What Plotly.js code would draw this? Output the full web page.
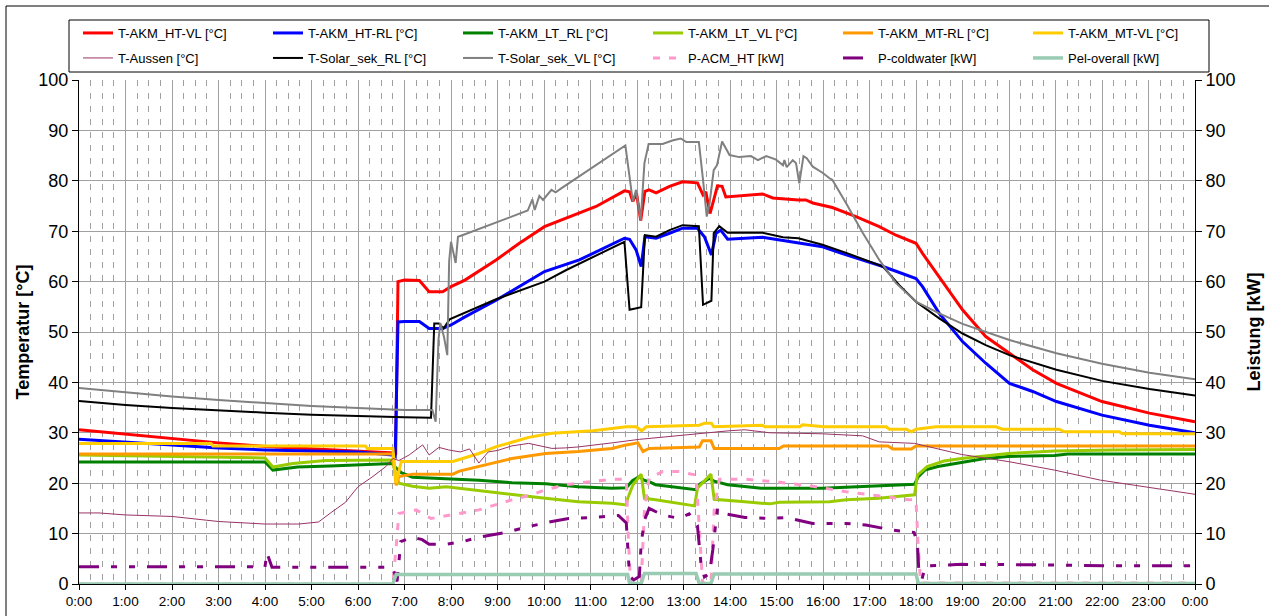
<!DOCTYPE html>
<html><head><meta charset="utf-8">
<script src="https://cdn.plot.ly/plotly-3.0.1.min.js"></script>
<style>html,body{margin:0;padding:0;background:#fff;} #chart{width:1269px;height:616px;}</style>
</head><body><div id="chart"></div>
<script>
// time in hours (0..24)
const hourTicks = [0,1,2,3,4,5,6,7,8,9,10,11,12,13,14,15,16,17,18,19,20,21,22,23,24];
const hourLabels = ["0:00","1:00","2:00","3:00","4:00","5:00","6:00","7:00","8:00","9:00","10:00","11:00","12:00","13:00","14:00","15:00","16:00","17:00","18:00","19:00","20:00","21:00","22:00","23:00","0:00"];

// [hour, value]
const akmHtVl = [[0,30.6],[1,29.7],[2,28.8],[3,28.0],[4,27.3],[5,26.8],[6,26.4],[6.78,26.0],[6.81,25.6],[6.86,60.0],[7.0,60.3],[7.32,60.2],[7.53,58.0],[7.82,58.0],[8.0,59.0],[8.3,60.3],[8.97,64.3],[9.47,67.6],[10.01,70.9],[10.76,73.5],[11.12,74.9],[11.73,78.0],[11.84,77.8],[11.91,75.9],[11.99,77.5],[12.08,72.1],[12.17,77.9],[12.26,78.2],[12.41,77.6],[12.7,78.9],[12.98,79.8],[13.3,79.6],[13.42,77.2],[13.48,77.8],[13.57,73.5],[13.65,76.2],[13.73,79.0],[13.83,78.9],[13.91,76.8],[14.7,77.4],[14.92,76.6],[15.47,76.2],[15.63,76.2],[15.78,75.6],[16.2,74.7],[16.71,72.9],[17.21,70.9],[17.57,69.2],[18.0,67.6],[18.14,65.6],[18.5,61.0],[19.0,54.4],[19.5,49.1],[20.01,45.8],[20.51,42.5],[21.02,39.8],[22.0,36.2],[23.02,33.9],[24,32.2]];
const akmHtRl = [[0,28.7],[1,28.2],[2,27.6],[3,27.0],[4,26.6],[5,26.4],[6,26.2],[6.74,25.6],[6.8,25.3],[6.86,52.0],[7.0,52.1],[7.32,52.1],[7.53,50.7],[7.82,50.7],[8.0,51.4],[8.3,53.0],[8.97,56.3],[10.01,62.0],[10.76,64.3],[11.73,68.6],[11.84,68.4],[11.98,66.3],[12.09,63.0],[12.17,68.9],[12.41,68.6],[12.7,69.6],[12.98,70.6],[13.3,70.6],[13.45,68.9],[13.6,65.3],[13.7,69.6],[13.8,70.2],[13.95,68.4],[14.7,68.8],[15.47,67.7],[15.99,66.9],[16.5,65.3],[17.29,63.0],[18.0,60.6],[18.14,59.0],[18.5,53.7],[19.0,48.1],[19.5,43.8],[20.01,39.8],[20.51,38.2],[21.02,36.2],[22.0,33.5],[23.02,31.5],[24,30.0]];
const akmLtRl = [[0,24.2],[4.0,24.2],[4.17,22.6],[4.7,23.2],[5.4,23.4],[6.74,23.9],[6.82,23.0],[6.93,22.1],[7.17,21.2],[7.9,20.9],[8.6,20.6],[9.31,20.1],[10.03,19.9],[10.74,19.3],[11.46,19.0],[11.77,19.1],[11.9,20.5],[12.05,21.3],[12.15,20.6],[12.26,20.3],[12.4,19.7],[13.27,18.7],[13.35,19.8],[13.56,21.0],[13.66,20.4],[13.95,19.7],[14.67,19.0],[15.99,19.0],[16.47,19.2],[17.19,19.5],[17.97,19.8],[18.05,21.3],[18.19,22.6],[18.47,23.3],[18.98,24.1],[19.48,24.9],[19.98,25.3],[20.98,25.5],[21.27,25.8],[24,25.8]];
const akmLtVl = [[0,25.6],[3.9,25.1],[4.0,25.0],[4.17,23.2],[4.6,23.9],[5.3,24.5],[6.74,24.6],[6.8,22.0],[6.88,20.0],[7.17,19.4],[7.53,19.0],[7.9,19.3],[8.6,18.5],[9.31,17.7],[10.03,17.0],[10.74,16.3],[11.46,16.0],[11.77,15.7],[11.8,17.0],[11.91,19.6],[12.09,21.8],[12.16,17.0],[12.4,16.7],[13.24,15.5],[13.3,19.0],[13.59,21.8],[13.66,16.8],[14.32,16.3],[14.86,15.9],[15.06,16.2],[15.5,16.3],[16.14,16.3],[16.5,16.7],[17.2,17.0],[17.97,17.7],[18.03,21.6],[18.24,23.3],[18.6,24.4],[18.98,24.9],[19.48,25.4],[19.98,25.9],[20.98,26.4],[22.2,26.6],[24,26.7]];
const akmMtRl = [[0,25.8],[6.75,25.8],[6.82,19.6],[6.88,21.3],[7.17,21.8],[8.04,21.8],[8.18,22.4],[8.6,23.3],[9.31,24.9],[10.03,25.9],[10.74,26.3],[11.46,26.9],[11.77,27.6],[12.02,28.0],[12.13,26.3],[12.26,26.9],[13.34,27.2],[13.41,28.4],[13.59,28.4],[13.66,26.9],[15.06,26.9],[15.15,27.4],[17.4,27.4],[17.5,26.8],[17.9,26.8],[18.0,27.4],[24,27.4]];
const akmMtVl = [[0,27.9],[2.84,27.9],[2.88,27.4],[6.16,27.4],[6.2,26.9],[6.75,26.9],[6.82,20.0],[6.93,24.3],[8.04,24.3],[8.6,25.9],[8.96,27.2],[9.31,28.2],[9.67,29.1],[10.17,29.9],[11.05,30.4],[11.77,31.2],[11.98,31.2],[12.1,30.4],[12.2,31.2],[13.34,31.5],[13.45,31.9],[13.6,31.9],[13.65,31.2],[14.7,31.5],[14.75,31.2],[15.5,31.2],[15.56,31.6],[16.02,31.2],[17.36,31.2],[17.43,30.7],[17.79,30.7],[17.9,30.2],[18.0,30.7],[18.43,31.2],[19.72,31.2],[19.86,30.7],[21.08,30.7],[21.19,30.2],[22.37,30.2],[22.44,29.8],[24,29.8]];
const tAussen = [[0,14.1],[0.43,14.1],[1,13.7],[2,13.4],[3,12.4],[4,11.9],[4.73,11.9],[5.15,12.3],[5.44,14.3],[5.73,16.2],[6.0,19.3],[6.3,21.2],[6.6,23.3],[6.75,24.9],[6.88,24.5],[7.1,25.6],[7.39,27.6],[7.53,25.6],[7.74,27.1],[7.95,26.6],[8.2,26.2],[8.4,26.8],[8.6,24.0],[8.8,26.2],[9.0,26.5],[9.31,27.4],[9.67,27.9],[9.9,27.5],[10.17,26.9],[10.46,27.0],[10.74,27.2],[11.46,28.0],[12.05,28.7],[12.62,29.2],[13.34,29.9],[13.98,30.4],[14.32,30.6],[14.86,30.0],[15.47,29.9],[15.99,29.8],[16.85,29.4],[17.21,28.2],[17.97,27.9],[18.98,25.7],[19.98,24.3],[20.98,22.6],[21.97,20.6],[22.98,19.2],[24,17.8]];
const solarRl = [[0,36.3],[1,35.5],[2,34.9],[3,34.4],[4,34.0],[5,33.6],[6,33.3],[7,33.1],[7.57,33.0],[7.64,51.7],[7.74,51.7],[7.84,50.7],[7.97,52.5],[8.97,56.5],[10.01,60.0],[10.48,62.3],[11.73,67.9],[11.84,54.4],[12.09,54.9],[12.17,69.2],[12.41,68.9],[12.7,70.2],[12.98,71.2],[13.33,71.0],[13.42,55.4],[13.6,56.2],[13.65,69.6],[13.77,71.0],[13.95,69.7],[14.7,69.7],[15.14,68.8],[15.47,68.6],[15.99,67.3],[16.5,65.7],[17.29,63.0],[17.64,59.3],[18.0,56.0],[18.5,52.7],[19.0,49.7],[19.5,47.4],[20.01,45.4],[21.02,42.5],[22.0,40.3],[23.02,38.7],[24,37.4]];
const solarVl = [[0,38.9],[1,38.0],[2,37.2],[3,36.5],[4,35.9],[5,35.3],[6,34.9],[7,34.5],[7.6,34.5],[7.67,32.2],[7.73,48.4],[7.77,51.8],[7.85,49.0],[7.92,45.4],[7.96,64.0],[8.0,67.9],[8.1,63.7],[8.15,68.9],[8.3,69.4],[9.65,74.1],[9.75,76.3],[9.8,74.2],[9.9,77.0],[9.98,76.2],[10.16,78.2],[10.25,77.7],[10.37,78.5],[11.75,87.0],[11.91,75.9],[11.98,78.2],[12.08,72.2],[12.16,83.5],[12.25,87.3],[12.55,87.3],[12.76,88.0],[12.94,88.4],[13.06,87.7],[13.33,87.7],[13.42,80.2],[13.5,72.9],[13.56,75.5],[13.65,82.1],[13.72,83.1],[13.83,87.8],[13.99,85.1],[14.2,84.7],[14.45,84.9],[14.6,84.1],[14.78,84.9],[14.99,84.2],[15.14,83.1],[15.17,84.1],[15.22,82.7],[15.35,84.1],[15.42,83.5],[15.49,79.5],[15.58,84.9],[15.65,84.5],[15.78,82.8],[15.99,81.6],[16.14,80.5],[16.2,80.2],[16.5,75.5],[16.86,69.6],[17.21,64.3],[17.57,59.7],[18.0,56.0],[18.5,53.7],[19.0,51.6],[20.01,48.4],[21.02,45.8],[22.0,43.7],[23.02,41.9],[24,40.6]];
const pAcmHt = [[0,0],[6.75,0],[6.82,7.4],[6.88,14.0],[7.25,14.7],[7.57,13.0],[8.0,13.7],[8.6,14.7],[9.31,16.7],[9.74,17.7],[10.03,18.7],[10.46,19.7],[11.46,20.8],[11.77,20.8],[11.81,10.0],[11.86,0.2],[12.09,0.2],[12.16,14.7],[12.26,21.0],[12.55,22.3],[12.91,22.3],[13.27,21.6],[13.34,11.2],[13.41,0.2],[13.59,0.2],[13.66,14.7],[13.77,20.8],[14.32,20.8],[15.06,20.2],[15.78,19.4],[16.5,18.3],[17.21,17.4],[17.86,16.7],[18.0,16.7],[18.04,8.7],[18.1,0.2],[24,0.2]];
const pColdwater = [[0,3.4],[4.0,3.4],[4.04,6.2],[4.15,3.3],[6.72,3.3],[6.79,2.1],[6.84,0.5],[6.88,5.4],[6.92,8.4],[7.17,9.3],[7.38,8.8],[7.53,7.9],[7.9,7.9],[8.25,8.4],[8.6,9.3],[9.17,10.2],[9.67,11.4],[10.17,12.4],[10.53,13.0],[11.03,13.2],[11.46,13.5],[11.6,13.6],[11.77,12.1],[11.8,7.4],[11.84,1.5],[11.93,0.8],[12.05,1.5],[12.09,8.0],[12.16,12.7],[12.26,15.0],[12.55,13.7],[12.91,13.0],[13.12,13.9],[13.3,11.6],[13.38,3.6],[13.45,1.4],[13.56,2.1],[13.63,6.8],[13.73,15.0],[13.91,13.9],[14.32,13.2],[14.86,13.0],[15.2,13.2],[15.78,12.0],[16.5,12.0],[16.92,11.7],[17.5,10.7],[17.96,10.2],[18.03,8.1],[18.06,2.8],[18.13,1.0],[18.2,3.6],[18.98,3.9],[20.77,3.8],[22.2,3.6],[24,3.6]];
const pelOverall = [[0,0],[6.75,0],[6.82,1.9],[11.8,1.9],[11.84,0.1],[12.09,0.1],[12.16,2.1],[13.27,2.1],[13.34,0.1],[13.59,0.1],[13.66,2.0],[18.0,2.0],[18.05,0.1],[24,0.1]];

const FONT = 'Liberation Sans, Arial, sans-serif';
function tr(name, data, color, width, dash, axis, legend) {
  return {
    type: 'scatter', mode: 'lines', name: name,
    x: data.map(p => p[0]), y: data.map(p => p[1]),
    yaxis: axis, legend: legend,
    line: {color: color, width: width, dash: dash || 'solid'},
    hoverinfo: 'skip'
  };
}
const traces = [
  tr('T-AKM_HT-VL [°C]', akmHtVl, '#FF0000', 3, null, 'y', 'legend'),
  tr('T-AKM_HT-RL [°C]', akmHtRl, '#0000FF', 3, null, 'y', 'legend'),
  tr('T-AKM_LT_RL [°C]', akmLtRl, '#008000', 3, null, 'y', 'legend'),
  tr('T-AKM_LT_VL [°C]', akmLtVl, '#99CC00', 3, null, 'y', 'legend2'),
  tr('T-AKM_MT-RL [°C]', akmMtRl, '#FF9900', 3, null, 'y', 'legend2'),
  tr('T-AKM_MT-VL [°C]', akmMtVl, '#FFCC00', 3, null, 'y', 'legend2'),
  tr('T-Aussen [°C]', tAussen, '#993366', 1, null, 'y', 'legend3'),
  tr('T-Solar_sek_RL [°C]', solarRl, '#000000', 2, null, 'y', 'legend3'),
  tr('T-Solar_sek_VL [°C]', solarVl, '#808080', 2, null, 'y', 'legend3'),
  tr('P-ACM_HT [kW]', pAcmHt, '#FF99CC', 3, '7px,9px', 'y2', 'legend4'),
  tr('P-coldwater [kW]', pColdwater, '#800080', 3, '20px,12px,6px,12px,6px,12px', 'y2', 'legend4'),
  tr('Pel-overall [kW]', pelOverall, '#99CCB3', 3.5, null, 'y2', 'legend4')
];

const GRID = '#A0A0A0';
function px2x(px) { return (px - 79) / 1116; }
function px2y(py) { return (584 - py) / 504; }
const legendCommon = {
  orientation: 'h', xanchor: 'left', yanchor: 'middle',
  entrywidth: 145, entrywidthmode: 'pixels',
  bgcolor: 'rgba(0,0,0,0)', borderwidth: 0,
  font: {family: FONT, size: 13, color: '#000'}, traceorder: 'normal',
  itemclick: false, itemdoubleclick: false
};
const layout = {
  width: 1269, height: 616,
  margin: {l: 79, r: 74, t: 80, b: 32, pad: 0, autoexpand: false},
  paper_bgcolor: '#ffffff', plot_bgcolor: '#ffffff',
  font: {family: FONT, color: '#000'},
  showlegend: true,
  hovermode: false,
  xaxis: {
    range: [0, 24], tickmode: 'array', tickvals: hourTicks, ticktext: hourLabels,
    showgrid: true, gridcolor: GRID, gridwidth: 1,
    ticks: 'outside', ticklen: 5, tickcolor: '#000', tickwidth: 1,
    showline: true, linecolor: '#000', linewidth: 1, zeroline: false,
    tickfont: {family: FONT, size: 13.5, color: '#000'},
    minor: {tickmode: 'linear', tick0: 0, dtick: 0.25, showgrid: true, gridcolor: GRID, gridwidth: 1, griddash: '6px,7px', ticks: ''},
    layer: 'below traces', fixedrange: true, automargin: false
  },
  yaxis: {
    range: [0, 100], tickmode: 'linear', tick0: 0, dtick: 10,
    showgrid: true, gridcolor: GRID, gridwidth: 1,
    ticks: 'outside', ticklen: 6, tickcolor: '#000',
    showline: true, linecolor: '#000', linewidth: 1, zeroline: false,
    tickfont: {family: FONT, size: 18, color: '#000'},
    title: {text: '<b>Temperatur [°C]</b>', font: {family: FONT, size: 18, color: '#000'}, standoff: 4},
    layer: 'below traces', fixedrange: true, automargin: false
  },
  yaxis2: {
    overlaying: 'y', side: 'right', range: [0, 100], tickmode: 'linear', tick0: 0, dtick: 10,
    showgrid: false, ticks: 'outside', ticklen: 6, tickcolor: '#000',
    showline: true, linecolor: '#000', linewidth: 1, zeroline: false,
    tickfont: {family: FONT, size: 18, color: '#000'},
    title: {text: '<b>Leistung [kW]</b>', font: {family: FONT, size: 18, color: '#000'}, standoff: 12},
    layer: 'below traces', fixedrange: true, automargin: false
  },
  legend:  Object.assign({}, legendCommon, {x: px2x(78),  y: px2y(33)}),
  legend2: Object.assign({}, legendCommon, {x: px2x(648), y: px2y(33)}),
  legend3: Object.assign({}, legendCommon, {x: px2x(78),  y: px2y(58)}),
  legend4: Object.assign({}, legendCommon, {x: px2x(648), y: px2y(58)}),
  shapes: [
    {type: 'rect', xref: 'paper', yref: 'paper', x0: px2x(6), x1: px2x(1290), y0: px2y(640), y1: px2y(6),
     line: {color: '#000', width: 1}, fillcolor: 'rgba(0,0,0,0)', layer: 'below'},
    {type: 'rect', xref: 'paper', yref: 'paper', x0: px2x(69), x1: px2x(1209), y0: px2y(72), y1: px2y(20),
     line: {color: '#000', width: 1}, fillcolor: '#ffffff', layer: 'below'}
  ]
};
Plotly.newPlot('chart', traces, layout, {staticPlot: true, displayModeBar: false});
</script>
</body></html>
